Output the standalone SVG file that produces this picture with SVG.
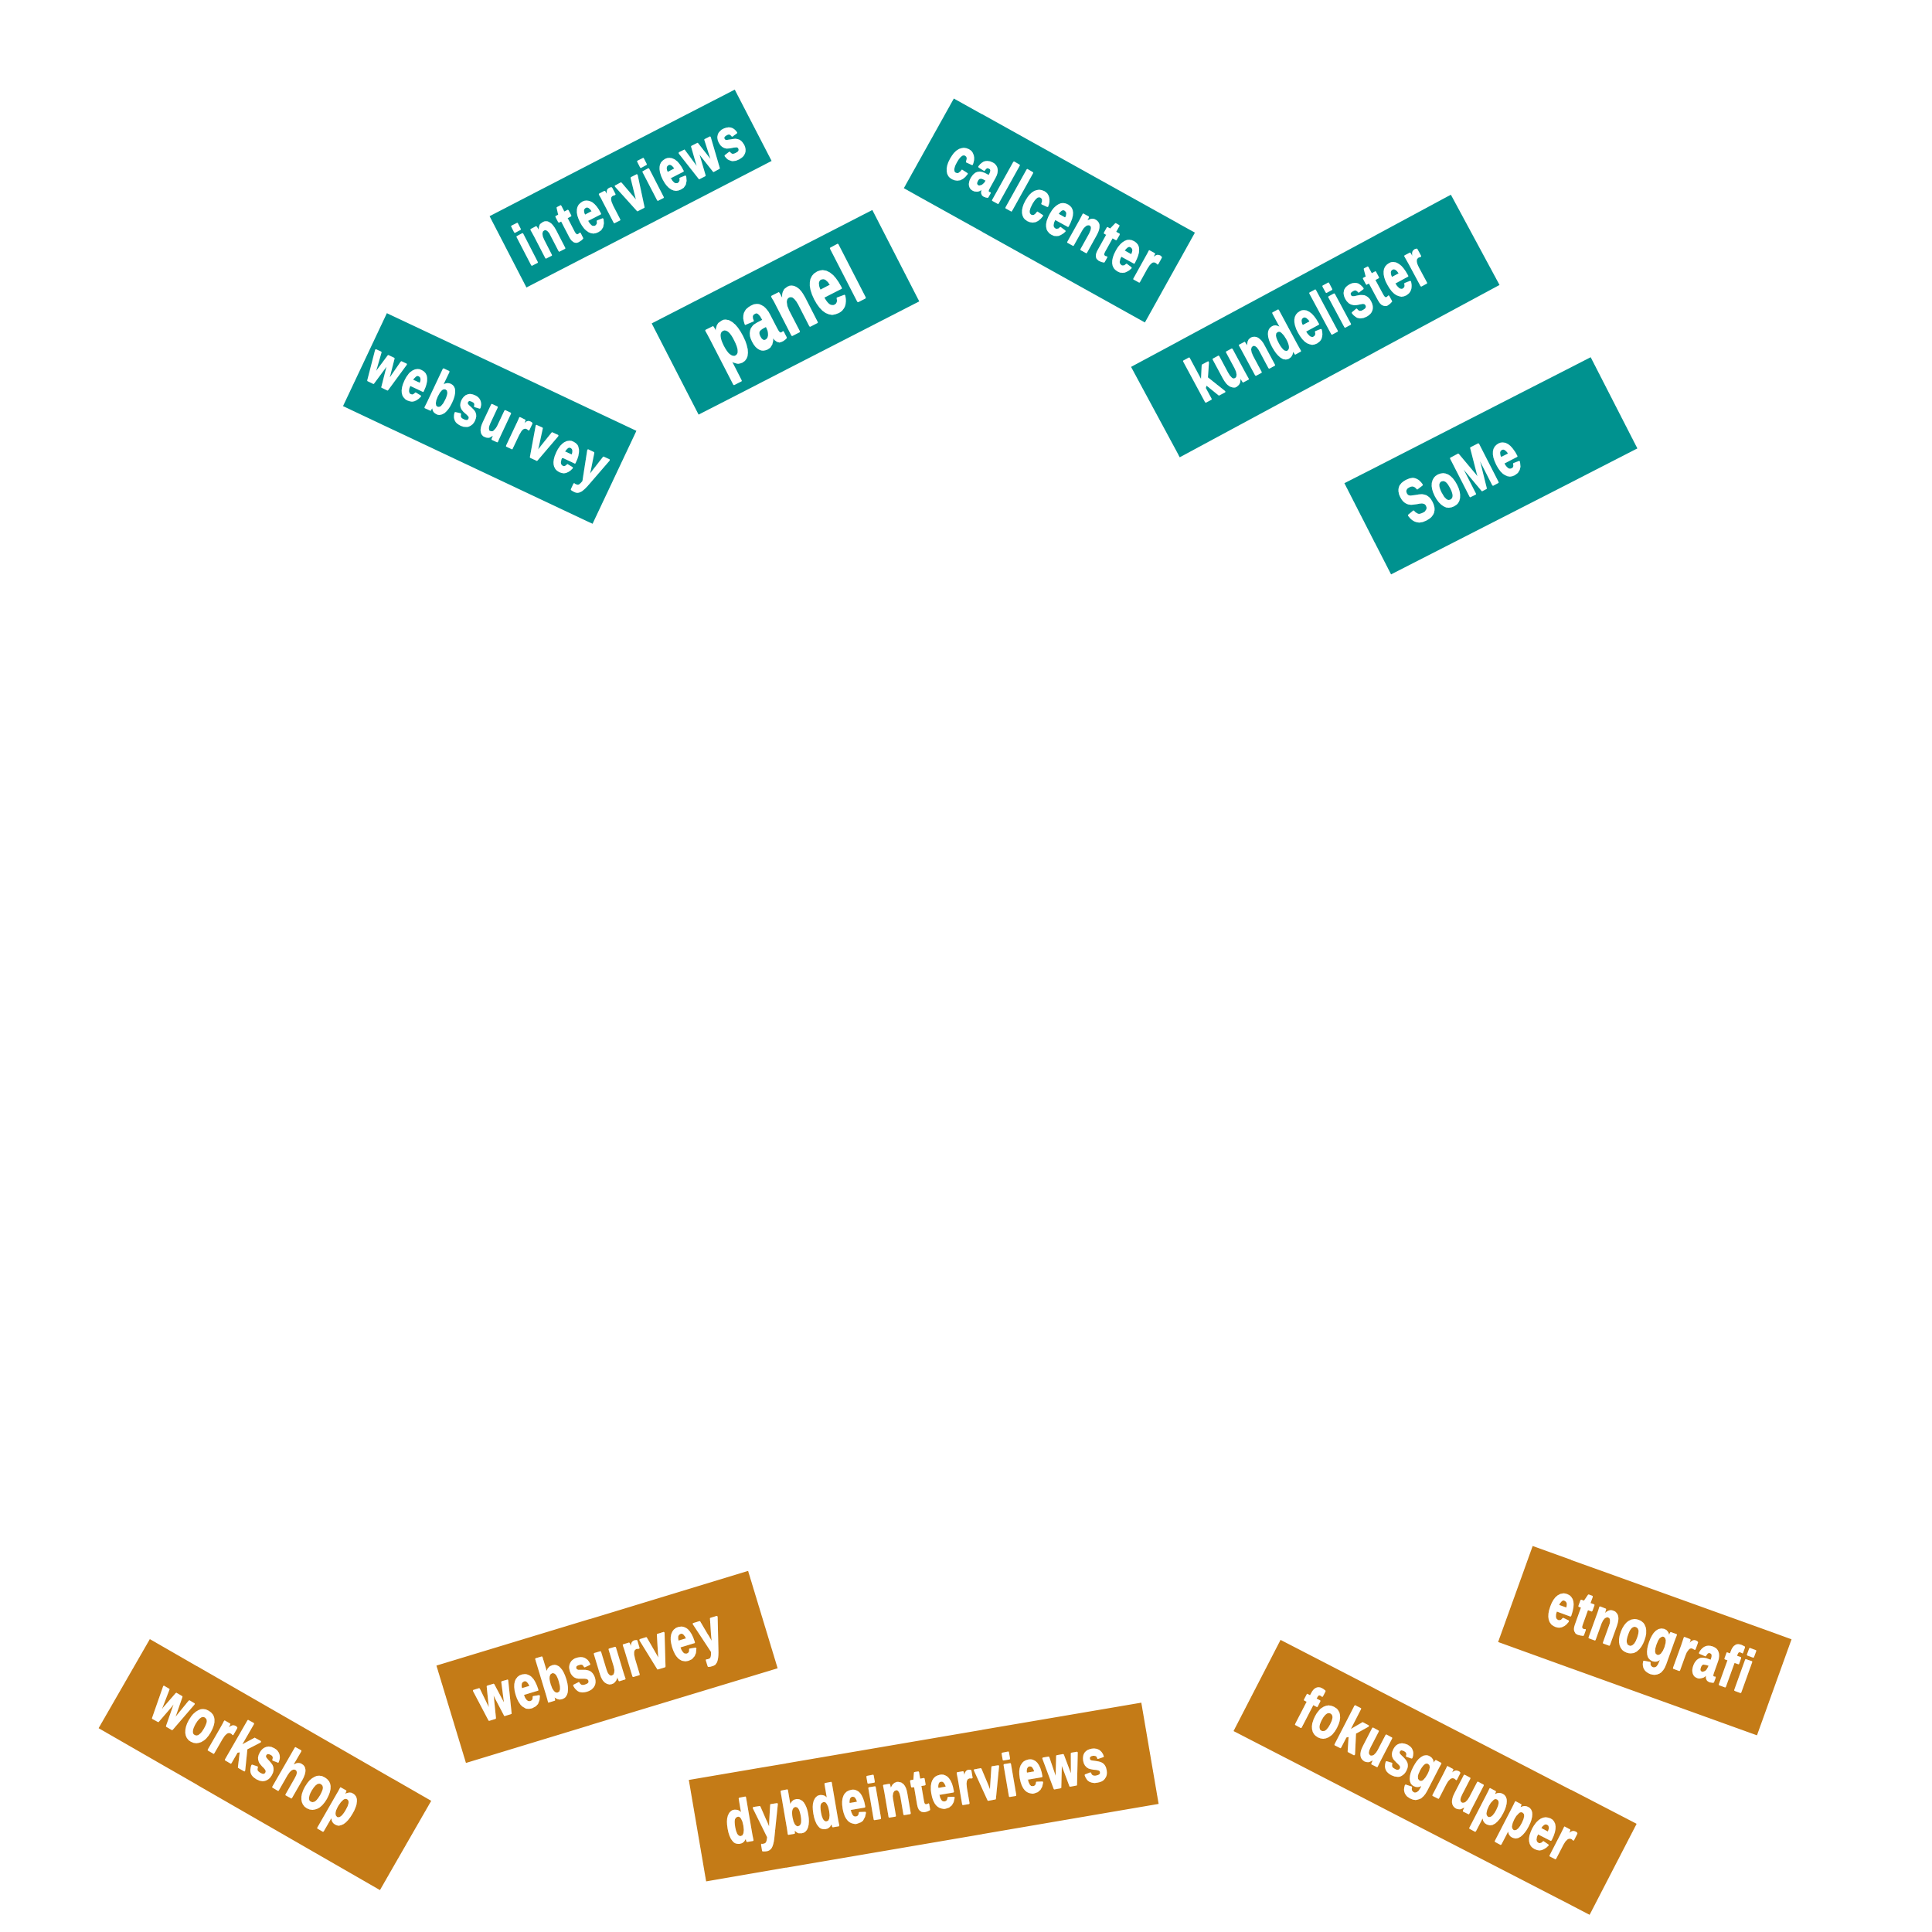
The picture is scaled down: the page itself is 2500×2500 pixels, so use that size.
<svg xmlns="http://www.w3.org/2000/svg" width="2500" height="2500" viewBox="0 0 2500 2500">
<style>
.teal{fill:#00928F}
.orange{fill:#C47B17}
.lbl{font-family:"Liberation Sans",Arial,sans-serif;font-weight:bold;fill:#FFFFFF;stroke:#FFFFFF;stroke-width:2.5;stroke-linejoin:round;text-anchor:middle}
</style>
<rect x="0" y="0" width="2500" height="2500" fill="#FFFFFF"/>
<g id="connectors"></g>
<g id="interviews" transform="translate(816,244) rotate(-27.3)">
<rect class="teal" x="-178.5" y="-52" width="357" height="104"/>
<text class="lbl" transform="scale(0.74,1)" x="-3.4" y="29" font-size="77" textLength="433.8" lengthAdjust="spacing">interviews</text>
</g>
<g id="websurvey-teal" transform="translate(633.7,541.5) rotate(25.25)">
<rect class="teal" x="-178.5" y="-66.5" width="357" height="133"/>
<text class="lbl" transform="scale(0.74,1)" x="-5.4" y="22.5" font-size="75" textLength="451.4" lengthAdjust="spacing">websurvey</text>
</g>
<g id="panel" transform="translate(1016.4,404.2) rotate(-27.2)">
<rect class="teal" x="-160.5" y="-66.4" width="321" height="132.8"/>
<text class="lbl" transform="scale(0.72,1)" x="-1.1" y="30" font-size="106" textLength="295.8" lengthAdjust="spacing">panel</text>
</g>
<g id="callcenter" transform="translate(1357.9,272.3) rotate(29.1)">
<rect class="teal" x="-178.5" y="-66.5" width="357" height="133"/>
<text class="lbl" transform="scale(0.74,1)" x="7.4" y="24" font-size="77" textLength="409.5" lengthAdjust="spacing">callcenter</text>
</g>
<g id="kundelister" transform="translate(1702,421.8) rotate(-28.3)">
<rect class="teal" x="-235" y="-66.4" width="470" height="132.8"/>
<text class="lbl" transform="scale(0.7,1)" x="-8.6" y="19" font-size="82" textLength="484.3" lengthAdjust="spacing">kundelister</text>
</g>
<g id="some" transform="translate(1929.2,602.8) rotate(-27.1)">
<rect class="teal" x="-179" y="-66.3" width="358" height="132.6"/>
<text class="lbl" transform="scale(0.72,1)" x="-61.1" y="23" font-size="80" textLength="226.4" lengthAdjust="spacing">SoMe</text>
</g>
<g id="workshop" transform="translate(342.8,2283.3) rotate(29.9)">
<rect class="orange" x="-210" y="-66.5" width="420" height="133"/>
<text class="lbl" transform="scale(0.72,1)" x="-22.2" y="20" font-size="80" textLength="409.7" lengthAdjust="spacing">workshop</text>
</g>
<g id="websurvey-orange" transform="translate(785.5,2157) rotate(-16.9)">
<rect class="orange" x="-210.75" y="-65.75" width="421.5" height="131.5"/>
<text class="lbl" transform="scale(0.74,1)" x="-12.7" y="21" font-size="79" textLength="444.6" lengthAdjust="spacing">websurvey</text>
</g>
<g id="dybdeinterviews" transform="translate(1195.3,2318.8) rotate(-9.7)">
<rect class="orange" x="-297" y="-66.5" width="594" height="133"/>
<text class="lbl" transform="scale(0.74,1)" x="-13.5" y="24" font-size="77" textLength="674.3" lengthAdjust="spacing">dybdeinterviews</text>
</g>
<g id="fokusgrupper" transform="translate(1857,2299.9) rotate(27.3)">
<rect class="orange" x="-259.25" y="-66.3" width="518.5" height="132.6"/>
<text class="lbl" transform="scale(0.74,1)" x="0" y="21.5" font-size="77" textLength="532.4" lengthAdjust="spacing">fokusgrupper</text>
</g>
<g id="etnografi" transform="translate(2128.4,2123) rotate(19.8)">
<rect class="orange" x="-178" y="-66" width="356" height="132"/>
<text class="lbl" transform="scale(0.74,1)" x="8.1" y="20.5" font-size="78" textLength="371.6" lengthAdjust="spacing">etnografi</text>
</g>
</svg>
